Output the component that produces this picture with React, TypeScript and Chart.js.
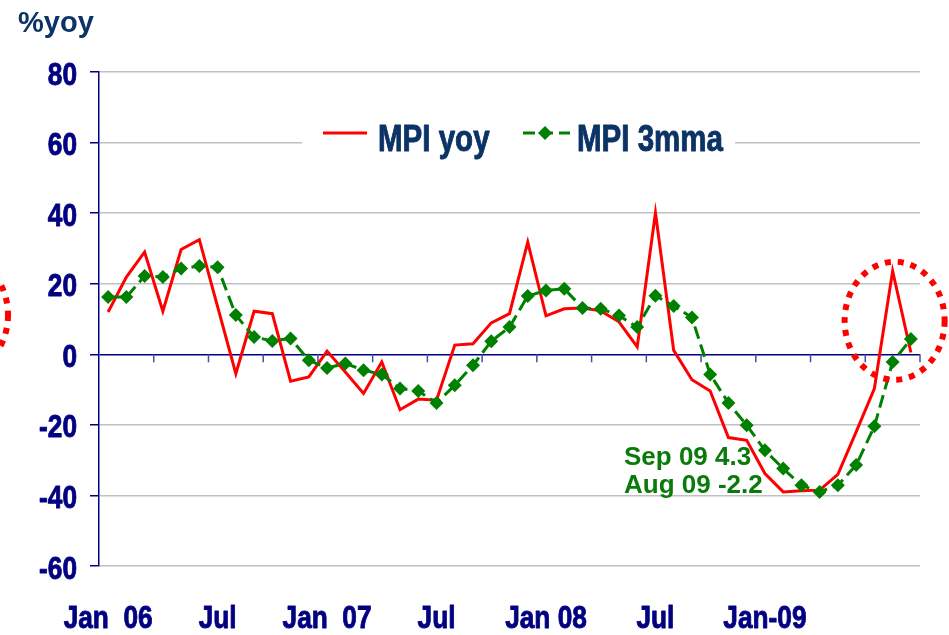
import React, { useEffect, useRef } from "react";
import { Chart, registerables } from "chart.js";

Chart.register(...registerables);

// ---- data ----
const months = [
  "Jan 06", "Feb 06", "Mar 06", "Apr 06", "May 06", "Jun 06", "Jul 06", "Aug 06", "Sep 06", "Oct 06", "Nov 06", "Dec 06",
  "Jan 07", "Feb 07", "Mar 07", "Apr 07", "May 07", "Jun 07", "Jul 07", "Aug 07", "Sep 07", "Oct 07", "Nov 07", "Dec 07",
  "Jan 08", "Feb 08", "Mar 08", "Apr 08", "May 08", "Jun 08", "Jul 08", "Aug 08", "Sep 08", "Oct 08", "Nov 08", "Dec 08",
  "Jan 09", "Feb 09", "Mar 09", "Apr 09", "May 09", "Jun 09", "Jul 09", "Aug 09", "Sep 09",
];

const mpiYoy = [
  12.0, 21.9, 29.0, 12.2, 29.7, 32.5, 13.5, -5.5, 12.2, 11.5, -7.6, -6.4,
  0.9, -5.0, -11.1, -2.2, -15.7, -12.7, -13.0, 2.6, 3.0, 8.9, 11.5, 31.8,
  10.9, 12.9, 13.1, 12.3, 9.2, 2.1, 40.1, 1.1, -7.2, -10.4, -23.6, -24.4,
  -33.8, -39.0, -38.7, -38.5, -34.0, -22.0, -9.7, 23.6, 0.5,
];

const mpi3mma = [
  16.2, 16.2, 22.2, 21.9, 24.3, 25.0, 24.7, 11.1, 4.9, 3.8, 4.5, -1.7,
  -3.9, -2.6, -4.5, -5.7, -9.7, -10.4, -13.8, -8.8, -3.1, 3.7, 7.7, 16.5,
  18.1, 18.6, 13.1, 12.9, 11.0, 7.7, 16.6, 13.7, 10.4, -5.7, -13.8, -20.1,
  -27.2, -32.4, -37.1, -39.0, -37.1, -31.4, -20.4, -2.2, 4.3,
];

const xTickIndex = [0, 6, 12, 18, 24, 30, 36];
const xTickLabels = ["Jan  06", "Jul", "Jan  07", "Jul", "Jan 08", "Jul", "Jan-09"];

const yMin = -60;
const yMax = 80;
const yStep = 20;

const seriesNames = ["MPI yoy", "MPI 3mma"];
const yUnitLabel = "%yoy";
const noteLines = ["Sep 09 4.3", "Aug 09 -2.2"];

// ---- styles ----
const NAVY = "#000080";
const TEXT_BLUE = "#0b3366";
const RED = "#ff0000";
const GREEN = "#008000";
const NOTE_GREEN = "#0a7a0a";
const GRID = "#c0c0c0";
const FONT = "'Liberation Sans', Arial, sans-serif";
const NARROW_X = 0.82;

function narrowText(ctx: any, text: string, x: number, y: number, align: string, size: number, color: string) {
  ctx.save();
  ctx.translate(x, y);
  ctx.scale(NARROW_X, 1);
  ctx.font = `bold ${size}px ${FONT}`;
  ctx.fillStyle = color;
  ctx.strokeStyle = color;
  ctx.lineWidth = 0.9;
  ctx.lineJoin = "round";
  ctx.textAlign = align;
  ctx.textBaseline = "alphabetic";
  ctx.fillText(text, 0, 0);
  ctx.strokeText(text, 0, 0);
  ctx.restore();
}

const decoPlugin = {
  id: "deco",
  beforeDatasetsDraw(chart: any) {
    const { ctx, chartArea, scales } = chart;
    const xs = scales.x;
    const y0 = scales.y.getPixelForValue(0);
    ctx.save();
    ctx.strokeStyle = "#4a4aa8";
    ctx.lineWidth = 1.5;
    for (let k = 3; k <= months.length; k += 3) {
      const px =
        k < months.length
          ? (xs.getPixelForValue(k - 1) + xs.getPixelForValue(k)) / 2
          : chartArea.right;
      ctx.beginPath();
      ctx.moveTo(px, y0);
      ctx.lineTo(px, y0 + 8);
      ctx.stroke();
    }
    ctx.restore();
  },
  afterDraw(chart: any) {
    const { ctx, scales } = chart;
    const xs = scales.x;
    const ys = scales.y;
    ctx.save();

    // axis labels (condensed bold)
    for (let v = yMin; v <= yMax; v += yStep) {
      narrowText(ctx, String(v), 77, ys.getPixelForValue(v) + 12.5, "right", 32, NAVY);
    }
    xTickIndex.forEach((idx, j) => {
      narrowText(ctx, xTickLabels[j], xs.getPixelForValue(idx), 628, "center", 32, NAVY);
    });

    // legend box
    ctx.fillStyle = "#ffffff";
    ctx.fillRect(302, 114, 433, 48);
    ctx.strokeStyle = RED;
    ctx.lineWidth = 3;
    ctx.beginPath();
    ctx.moveTo(323, 133);
    ctx.lineTo(367, 133);
    ctx.stroke();
    ctx.strokeStyle = GREEN;
    ctx.setLineDash([12, 6]);
    ctx.beginPath();
    ctx.moveTo(523, 133);
    ctx.lineTo(570, 133);
    ctx.stroke();
    ctx.setLineDash([]);
    ctx.fillStyle = GREEN;
    ctx.beginPath();
    ctx.moveTo(545, 126);
    ctx.lineTo(552, 133);
    ctx.lineTo(545, 140);
    ctx.lineTo(538, 133);
    ctx.closePath();
    ctx.fill();
    narrowText(ctx, seriesNames[0], 378, 151, "left", 36, TEXT_BLUE);
    narrowText(ctx, seriesNames[1], 577, 151, "left", 36, TEXT_BLUE);

    // unit label
    ctx.fillStyle = TEXT_BLUE;
    ctx.textAlign = "left";
    ctx.textBaseline = "alphabetic";
    ctx.font = `bold 29px ${FONT}`;
    ctx.fillText(yUnitLabel, 18, 32);

    // note
    ctx.fillStyle = NOTE_GREEN;
    ctx.font = `bold 26px ${FONT}`;
    ctx.fillText(noteLines[0], 624, 465);
    ctx.fillText(noteLines[1], 624, 493);

    // dotted ellipses
    ctx.strokeStyle = RED;
    ctx.lineWidth = 6;
    ctx.setLineDash([6, 7]);
    ctx.beginPath();
    ctx.ellipse(xs.getPixelForValue(43) + 2, ys.getPixelForValue(9.5), 50, 59, 0, 0, Math.PI * 2);
    ctx.stroke();
    ctx.beginPath();
    ctx.ellipse(-42, 315, 50, 59, 0, 0, Math.PI * 2);
    ctx.stroke();
    ctx.restore();
  },
};

export default function App() {
  const ref = useRef<HTMLCanvasElement | null>(null);

  useEffect(() => {
    if (!ref.current) return;
    const chart = new Chart(ref.current, {
      type: "line",
      data: {
        labels: months,
        datasets: [
          {
            label: seriesNames[0],
            data: mpiYoy,
            borderColor: RED,
            backgroundColor: RED,
            borderWidth: 3,
            pointRadius: 0,
            tension: 0,
            order: 1,
          },
          {
            label: seriesNames[1],
            data: mpi3mma,
            borderColor: GREEN,
            backgroundColor: GREEN,
            borderWidth: 3,
            borderDash: [13, 6],
            pointStyle: "rectRot",
            pointRadius: 7,
            pointBackgroundColor: GREEN,
            pointBorderColor: GREEN,
            pointBorderWidth: 0,
            tension: 0,
            order: 0,
          },
        ],
      },
      options: {
        responsive: false,
        animation: false,
        devicePixelRatio: 1,
        layout: { padding: { top: 72, right: 29, left: 0, bottom: 0 } },
        plugins: { legend: { display: false }, tooltip: { enabled: false } },
        scales: {
          x: {
            type: "category",
            offset: true,
            grid: { display: false, drawTicks: false },
            border: { display: false },
            ticks: { display: false, autoSkip: false, maxRotation: 0, minRotation: 0 },
            afterFit: (s: any) => {
              s.height = 69;
            },
          },
          y: {
            min: yMin,
            max: yMax,
            ticks: { display: false, stepSize: yStep },
            grid: {
              color: (c: any) => (c.tick && c.tick.value === 0 ? NAVY : GRID),
              lineWidth: 1.5,
              tickLength: 9,
              tickColor: NAVY,
              drawTicks: true,
            },
            border: { display: true, color: NAVY, width: 1.5 },
            afterFit: (s: any) => {
              s.width = 99;
            },
          },
        },
      },
      plugins: [decoPlugin],
    });
    return () => chart.destroy();
  }, []);

  return (
    <div style={{ position: "fixed", left: 0, top: 0, width: 949, height: 635, background: "#fff" }}>
      <canvas ref={ref} width={949} height={635} />
    </div>
  );
}
